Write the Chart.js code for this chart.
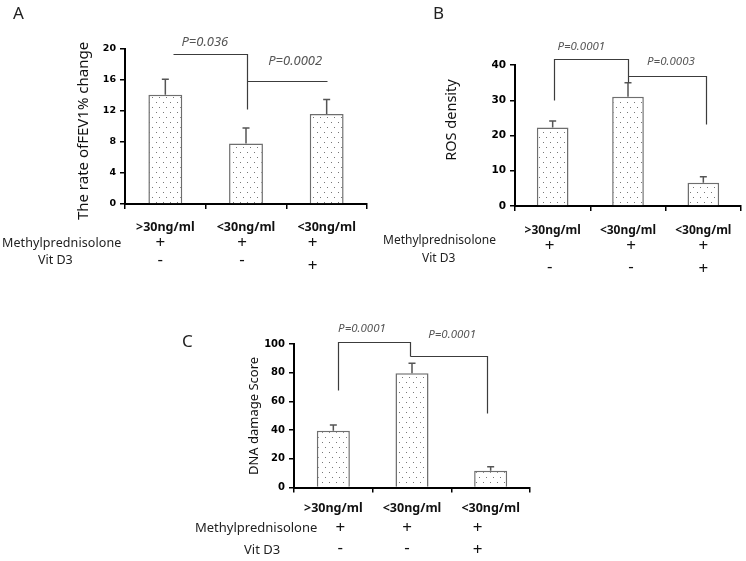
<!DOCTYPE html>
<html>
<head>
<meta charset="utf-8">
<script src="https://cdn.jsdelivr.net/npm/chart.js@4.4.1/dist/chart.umd.min.js"></script>
<style>
  html, body { margin: 0; padding: 0; background: #fff; }
  #page { position: relative; width: 746px; height: 561px; overflow: hidden; font-family: "Noto Sans", sans-serif; color: #222; }
  #page canvas { position: absolute; }
  .lbl { position: absolute; white-space: nowrap; line-height: 1; }
</style>
</head>
<body>
<div id="page">
  <canvas id="chartA" width="373" height="280" style="left:0;top:0"></canvas>
  <canvas id="chartB" width="373" height="280" style="left:373px;top:0"></canvas>
  <canvas id="chartC" width="373" height="281" style="left:180px;top:280px"></canvas>

  <div class="lbl" style="left:13px;top:4px;font-size:17px">A</div>
  <div class="lbl" style="left:2px;top:237px;font-size:12.5px;letter-spacing:0.1px">Methylprednisolone</div>
  <div class="lbl" style="left:38px;top:254px;font-size:12.5px">Vit D3</div>

  <div class="lbl" style="left:433px;top:4px;font-size:17px">B</div>
  <div class="lbl" style="left:383px;top:234px;font-size:12px">Methylprednisolone</div>
  <div class="lbl" style="left:422px;top:252px;font-size:12px">Vit D3</div>

  <div class="lbl" style="left:182px;top:332px;font-size:17px">C</div>
  <div class="lbl" style="left:195px;top:521px;font-size:13px">Methylprednisolone</div>
  <div class="lbl" style="left:244px;top:543px;font-size:13px">Vit D3</div>
</div>

<script>
// 数据
const categories = ['>30ng/ml', '<30ng/ml', '<30ng/ml'];
const methylRow = ['+', '+', '+'];
const vitD3Row = ['-', '-', '+'];

const fevValues = [14.1, 7.8, 11.6];
const fevErrors = [2.0, 2.0, 1.9];
const fevTicks = { max: 20, step: 4 };
const fevPValues = ['P=0.036', 'P=0.0002'];

const rosValues = [22.3, 31.0, 6.6];
const rosErrors = [1.8, 4.0, 1.7];
const rosTicks = { max: 40, step: 10 };
const rosPValues = ['P=0.0001', 'P=0.0003'];

const dnaValues = [39.6, 79.6, 11.7];
const dnaErrors = [3.9, 6.9, 2.8];
const dnaTicks = { max: 100, step: 20 };
const dnaPValues = ['P=0.0001', 'P=0.0001'];

Chart.defaults.font.family = '"Noto Sans", sans-serif';
Chart.defaults.color = '#111';

// 点状填充
function dotPattern() {
    const c = document.createElement('canvas');
    c.width = 7;
    c.height = 10;
    const g = c.getContext('2d');
    g.fillStyle = '#fff';
    g.fillRect(0, 0, 7, 10);
    g.fillStyle = '#777';
    g.fillRect(2, 2, 1, 1);
    g.fillRect(5, 7, 1, 1);
    return g.createPattern(c, 'repeat');
}

function makePanel(id, cfg) {
    const extras = {
        id: 'extras_' + id,
        afterDatasetsDraw(chart) {
            const ctx = chart.ctx;
            const y = chart.scales.y;
            const meta = chart.getDatasetMeta(0);

            // 误差线
            ctx.save();
            ctx.strokeStyle = '#555';
            ctx.lineWidth = 1.5;
            meta.data.forEach((bar, i) => {
                const top = y.getPixelForValue(cfg.values[i]);
                const end = y.getPixelForValue(cfg.values[i] + cfg.errors[i]);
                ctx.beginPath();
                ctx.moveTo(bar.x, top);
                ctx.lineTo(bar.x, end);
                ctx.moveTo(bar.x - 3.5, end);
                ctx.lineTo(bar.x + 3.5, end);
                ctx.stroke();
            });
            ctx.restore();
        },
        afterDraw(chart) {
            const ctx = chart.ctx;
            const x = chart.scales.x;
            const y = chart.scales.y;

            // 显著性连线
            ctx.save();
            ctx.strokeStyle = '#3c3c3c';
            ctx.lineWidth = 1.2;
            cfg.brackets.forEach(path => {
                ctx.beginPath();
                path.forEach((p, k) => {
                    const px = Math.round(x.getPixelForValue(p[0])) + 0.5;
                    const py = Math.round(y.getPixelForValue(p[1])) + 0.5;
                    if (k === 0) ctx.moveTo(px, py); else ctx.lineTo(px, py);
                });
                ctx.stroke();
            });

            ctx.fillStyle = '#555';
            ctx.font = 'italic ' + cfg.pFont + 'px "Noto Sans"';
            ctx.textAlign = 'center';
            ctx.textBaseline = 'middle';
            cfg.pSpots.forEach((p, k) => {
                ctx.fillText(cfg.pTexts[k], x.getPixelForValue(p[0]), y.getPixelForValue(p[1]));
            });

            // y 轴标题
            ctx.fillStyle = '#111';
            ctx.font = cfg.title.size + 'px "Noto Sans"';
            ctx.translate(cfg.title.x, cfg.title.y);
            ctx.rotate(-Math.PI / 2);
            ctx.fillText(cfg.title.text, 0, 0);
            ctx.restore();

            // + / - 行
            ctx.save();
            ctx.fillStyle = '#111';
            ctx.font = '17px "Noto Sans"';
            ctx.textAlign = 'center';
            ctx.textBaseline = 'middle';
            cfg.rows.forEach(row => {
                row.marks.forEach((m, i) => {
                    const px = x.getPixelForValue(i) + cfg.signShift[i];
                    ctx.fillText(m, px, m === '+' ? row.yPlus : row.yMinus);
                });
            });
            ctx.restore();
        }
    };

    return new Chart(document.getElementById(id), {
        type: 'bar',
        data: {
            labels: categories,
            datasets: [{
                data: cfg.values,
                backgroundColor: dotPattern(),
                borderColor: '#6e6e6e',
                borderWidth: 1.5,
                borderSkipped: 'bottom',
                categoryPercentage: 1,
                barPercentage: 0.42
            }]
        },
        options: {
            responsive: false,
            animation: false,
            layout: { padding: { left: 0, top: cfg.area.top, right: cfg.area.right, bottom: 0 } },
            plugins: { legend: { display: false }, tooltip: { enabled: false } },
            scales: {
                x: {
                    grid: { display: true, drawOnChartArea: false, drawTicks: true, tickLength: 5, color: '#000', lineWidth: 1.5 },
                    border: { display: true, color: '#000', width: 2 },
                    ticks: { padding: cfg.xPad, color: '#111', font: { size: cfg.catFont, weight: 'bold' } },
                    afterFit(s) { s.height = cfg.area.xHeight; }
                },
                y: {
                    min: 0,
                    max: cfg.ticks.max,
                    grid: { display: true, drawOnChartArea: false, drawTicks: true, tickLength: 5, color: '#000', lineWidth: 1.5 },
                    border: { display: true, color: '#000', width: 2 },
                    ticks: {
                        stepSize: cfg.ticks.step,
                        padding: 4,
                        color: '#000',
                        font: { family: '"DejaVu Sans"', size: cfg.tickFont, weight: 'bold' }
                    },
                    afterFit(s) { s.width = cfg.area.left; }
                }
            }
        },
        plugins: [extras]
    });
}

makePanel('chartA', {
    values: fevValues, errors: fevErrors, ticks: fevTicks,
    area: { left: 125, top: 49, right: 6, xHeight: 76 },
    xPad: 11, catFont: 12.5, tickFont: 9.5,
    title: { text: 'The rate ofFEV1% change', x: 84, y: 131, size: 15 },
    brackets: [
        [[0.095, 19.35], [1.01, 19.35], [1.01, 12.2]],
        [[1.01, 15.87], [2.0, 15.87]]
    ],
    pTexts: fevPValues, pSpots: [[0.49, 20.9], [1.61, 18.4]], pFont: 13,
    signShift: [-5, -4, -14],
    rows: [
        { marks: methylRow, yPlus: 243, yMinus: 242 },
        { marks: vitD3Row, yPlus: 266.5, yMinus: 260 }
    ]
});

makePanel('chartB', {
    values: rosValues, errors: rosErrors, ticks: rosTicks,
    area: { left: 142, top: 65, right: 5, xHeight: 74 },
    xPad: 12, catFont: 12, tickFont: 10.5,
    title: { text: 'ROS density', x: 79, y: 120, size: 14.5 },
    brackets: [
        [[0.018, 30.1], [0.018, 41.6], [1.0, 41.6], [1.0, 35.2]],
        [[1.0, 36.9], [2.03, 36.9], [2.03, 23.3]]
    ],
    pTexts: rosPValues, pSpots: [[0.38, 45.1], [1.57, 40.9]], pFont: 11.5,
    signShift: [-3, 3, 0],
    rows: [
        { marks: methylRow, yPlus: 246.5, yMinus: 246 },
        { marks: vitD3Row, yPlus: 269.5, yMinus: 267.5 }
    ]
});

makePanel('chartC', {
    values: dnaValues, errors: dnaErrors, ticks: dnaTicks,
    area: { left: 114, top: 64, right: 23, xHeight: 73.5 },
    xPad: 8, catFont: 12.5, tickFont: 10,
    title: { text: 'DNA damage Score', x: 74.5, y: 136, size: 13 },
    brackets: [
        [[0.055, 68], [0.055, 101.4], [0.98, 101.4], [0.98, 91.6]],
        [[0.98, 91.6], [1.95, 91.6], [1.95, 52]]
    ],
    pTexts: dnaPValues, pSpots: [[0.364, 110.9], [1.51, 106.3]], pFont: 11.5,
    signShift: [7, -5, -13],
    rows: [
        { marks: methylRow, yPlus: 248.5, yMinus: 248 },
        { marks: vitD3Row, yPlus: 270, yMinus: 268.5 }
    ]
});
</script>
</body>
</html>
